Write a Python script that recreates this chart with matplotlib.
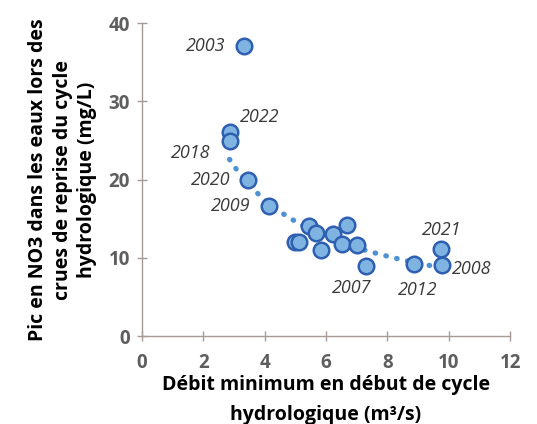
import numpy as np
import matplotlib
matplotlib.use('Agg')
import matplotlib.pyplot as plt

plt.rcParams['font.family'] = ['Open Sans', 'DejaVu Sans']

# Débit minimum (m3/s) and pic NO3 (mg/L)
years = ['2003', '2022', '2018', '2020', '2009', '', '', '', '', '', '', '', '', '',
         '2007', '2012', '2021', '2008']
debit = [3.34, 2.86, 2.86, 3.45, 4.15, 4.99, 5.13, 5.46, 5.68, 5.83, 6.22, 6.52, 6.68, 7.0,
         7.29, 8.86, 9.76, 9.78]
no3 = [37.1, 26.1, 24.9, 19.9, 16.6, 12.0, 12.0, 14.05, 13.2, 11.0, 13.0, 11.75, 14.2, 11.6,
       8.92, 9.25, 11.1, 9.1]

# label offsets (points) for the year annotations
offsets = {'2003': (-13.5, 0, 'right'), '2022': (7.5, 10.5, 'left'), '2018': (-14, -8.5, 'right'),
           '2020': (-12.5, 0, 'right'), '2009': (-13.5, 0, 'right'), '2021': (0, 13.7, 'center'),
           '2008': (7, -3, 'left'), '2007': (-9.7, -15.8, 'center'), '2012': (3, -18.7, 'center')}

x = np.array(debit)
y = np.array(no3)

fig = plt.figure(figsize=(5.37, 4.24), dpi=100)
ax = fig.add_axes([0.264, 0.2075, 0.686, 0.7375])

# power trend line (2003 left out)
mask = np.array(years) != '2003'
b, lna = np.polyfit(np.log(x[mask]), np.log(y[mask]), 1)
xt = np.linspace(x[mask].min(), x[mask].max(), 200)
ax.plot(xt, np.exp(lna) * xt ** b, linestyle=(0, (0.1, 2.0)), dash_capstyle='round',
        color='#4f92d3', lw=3.8, zorder=2)

ax.scatter(x, y, s=125, facecolor='#7fb4e2', edgecolor='#2f5fb0', linewidth=1.8, zorder=3)

for yr, xi, yi in zip(years, debit, no3):
    if yr:
        dx, dy, ha = offsets[yr]
        ax.annotate(yr, (xi, yi), xytext=(dx, dy), textcoords='offset points',
                    ha=ha, va='center', fontsize=13, style='italic', color='#3a3a3a')

ax.set_xlim(0, 12)
ax.set_ylim(0, 40)
ax.set_xticks(range(0, 13, 2))
ax.set_yticks(range(0, 41, 10))
for s in ['top', 'right']:
    ax.spines[s].set_visible(False)
for s in ['left', 'bottom']:
    ax.spines[s].set_color('#a89a94')
    ax.spines[s].set_linewidth(1.0)
ax.tick_params(direction='inout', length=7, width=1, color='#a89a94',
               labelsize=13.5, labelcolor='#5e5e5e', pad=5)
ax.tick_params(axis='x', pad=9)
for lab in ax.get_xticklabels() + ax.get_yticklabels():
    lab.set_fontweight('bold')

ax.set_xlabel('Débit minimum en début de cycle\nhydrologique (m³/s)', fontsize=14,
              fontweight='bold', color='black', labelpad=1, linespacing=1.65)
ax.set_ylabel('Pic en NO3 dans les eaux lors des\ncrues de reprise du cycle\nhydrologique (mg/L)',
              fontsize=14, fontweight='bold', color='black', labelpad=8, linespacing=1.3)

fig.savefig('out.png', dpi=100)
